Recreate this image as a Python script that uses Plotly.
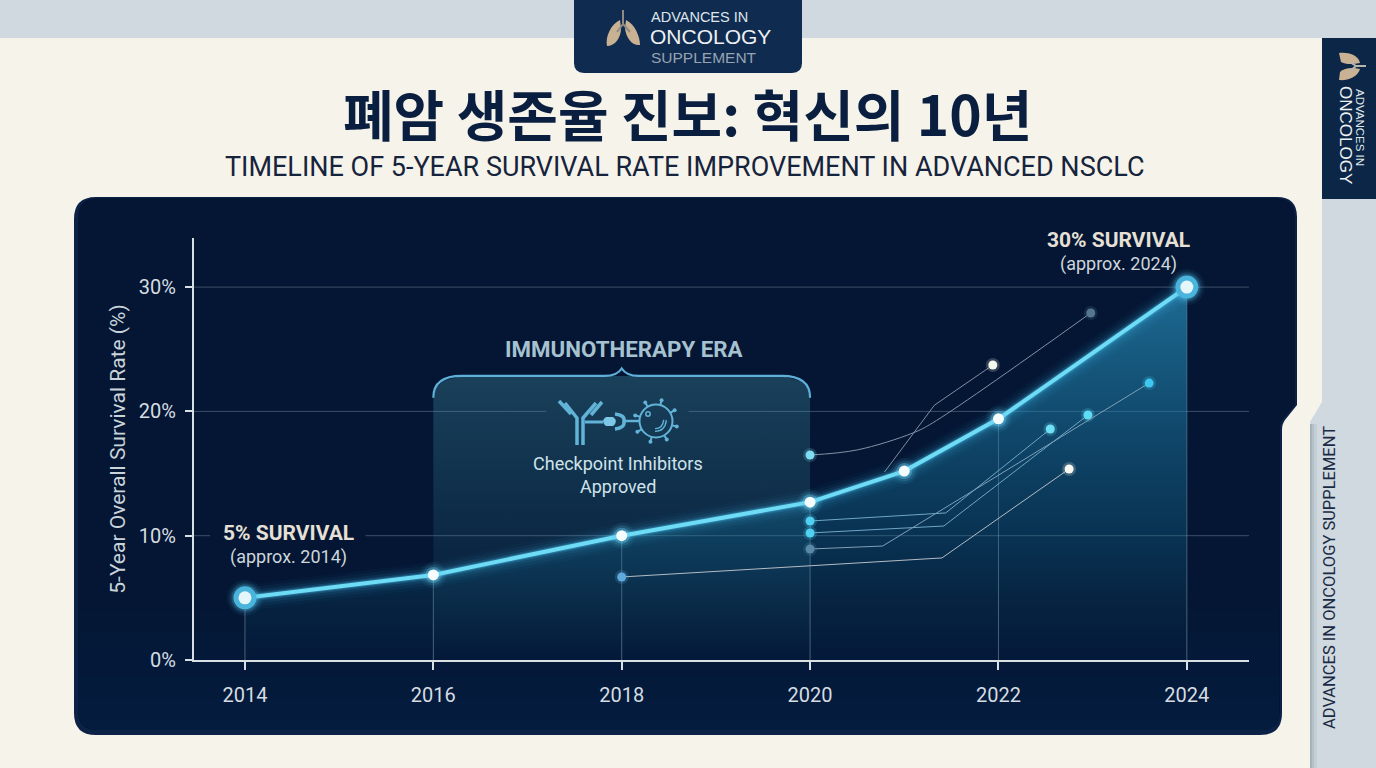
import math
import re
import plotly.graph_objects as go

# Survival curve
years = [2014, 2016, 2018, 2020, 2021, 2022, 2024]
survival = [5, 6.84, 10, 12.7, 15.2, 19.4, 30]
x_ticks = [2014, 2016, 2018, 2020, 2022, 2024]
y_ticks = [0, 10, 20, 30]
y_tick_labels = ["0%", "10%", "20%", "30%"]

# Faint horizontal guides, broken where text sits over them
guide_x = [2013.459, 2013.63, None, 2015.28, 2024.66, None,
           2013.459, 2017.2, None, 2018.71, 2024.66, None,
           2013.459, 2024.66]
guide_y = [10, 10, None, 10, 10, None,
           20, 20, None, 20, 20, None,
           30, 30]

# Immunotherapy era band, with rounded shoulders under its bracket
era_x = [2016, 2016, 2016.03, 2016.1, 2016.3, 2019.7, 2019.9, 2019.97, 2020, 2020]
era_y = [0, 21.1, 21.9, 22.45, 22.85, 22.85, 22.45, 21.9, 21.1, 0]

# Thin connector lines, each ending in a small node
connectors = [
    dict(x=[2020, 2020.5, 2021.09, 2021.3, 2022.98], y=[16.49, 16.9, 18.26, 19.07, 27.92],
         line="#7f93a8", start="#7fdcf2", end="#55768f", shape="spline"),
    dict(x=[2020.79, 2021.32, 2021.94], y=[15.12, 20.5, 23.73],
         line="#7f8ea0", start=None, end="#f4f7ec", shape="linear"),
    dict(x=[2020, 2021.44, 2022.55], y=[11.18, 11.83, 18.58],
         line="#6fa6c4", start="#4fd2f2", end="#6fe0f5", shape="linear"),
    dict(x=[2020, 2021.42, 2022.95], y=[10.22, 10.78, 19.71],
         line="#6fa6c4", start="#4fd2f2", end="#5fdcf5", shape="linear"),
    dict(x=[2020, 2020.77, 2023.6], y=[8.93, 9.17, 22.28],
         line="#7fa0b8", start="#5a88a8", end="#3fc8ef", shape="linear"),
    dict(x=[2018, 2021.4, 2022.75], y=[6.68, 8.21, 15.37],
         line="#b4bcc4", start="#5fa9dc", end="#f8f8f0", shape="linear"),
]

WIDTH, HEIGHT = 1376, 768
LEFT, RIGHT, TOP, BOTTOM = 194, 1249, 238, 660
FONT = "Roboto"
BRAND = "Liberation Sans"
CJK = "Noto Sans CJK KR"


def fx(px):
    return (px - LEFT) / (RIGHT - LEFT)


def fy(py):
    return (BOTTOM - py) / (BOTTOM - TOP)


def page_path(d):
    """Turn an SVG path written in page pixels into plot-paper coordinates."""
    nums = iter(re.findall(r"-?\d+\.?\d*|[A-Za-z]", d))
    out = []
    for tok in nums:
        if tok.isalpha():
            out.append(tok)
        else:
            out.append(f"{fx(float(tok)):.5f},{fy(float(next(nums))):.5f}")
    return " ".join(out)


shapes = []


def fill(d, color, layer="below", opacity=1):
    shapes.append(dict(type="path", xref="paper", yref="paper", path=page_path(d),
                       fillcolor=color, line=dict(width=0), layer=layer, opacity=opacity))


def stroke(d, color, width, layer="above", opacity=1):
    shapes.append(dict(type="path", xref="paper", yref="paper", path=page_path(d),
                       line=dict(color=color, width=width), layer=layer, opacity=opacity))


def circle(cx, cy, r, line=None, width=0, color=None, layer="above"):
    shapes.append(dict(type="circle", xref="paper", yref="paper",
                       x0=fx(cx - r), x1=fx(cx + r), y0=fy(cy + r), y1=fy(cy - r),
                       fillcolor=color or "rgba(0,0,0,0)",
                       line=dict(color=line or "rgba(0,0,0,0)", width=width), layer=layer))


# Page: soft shadow beside the sheet, sheet with a notched right edge, then the chart panel
for off, a in [(7, 0.12), (4, 0.2), (2, 0.28)]:
    fill(f"M 1310 424 L {1310 + off} 424 L {1310 + off} 768 L 1310 768 Z", "#7f8c96", opacity=a)
fill("M 0 38 L 1322 38 L 1322 402 L 1310 422 L 1310 768 L 0 768 Z", "#f6f3ea")
fill("M 96 197 L 1277 197 Q 1297 197 1297 217 L 1297 405 L 1285 420 Q 1282 424 1282 430 "
     "L 1282 713 Q 1282 735 1260 735 L 96 735 Q 74 735 74 713 L 74 219 Q 74 197 96 197 Z", "#0b2146")
fill("M 98 198 L 1275 198 Q 1295 198 1295 218 L 1295 405 L 1283 419 Q 1280 423 1280 429 "
     "L 1280 711 Q 1280 730 1260 730 L 98 730 Q 78 730 78 711 L 78 218 Q 78 198 98 198 Z", "#041633")
# The panel lightens a little towards its lower edge
for top in range(610, 721, 22):
    fill(f"M 78 {top} L 1280 {top} L 1280 711 Q 1280 730 1260 730 L 98 730 Q 78 730 78 711 Z",
         "#1a3f66", opacity=0.05)

# Masthead tab and side tab
fill("M 574 0 L 802 0 L 802 63 Q 802 73 792 73 L 584 73 Q 574 73 574 63 Z", "#0f2b50")
fill("M 1322 38 L 1376 38 L 1376 199 L 1322 199 Z", "#0c2647")

# Lungs on the masthead
BEIGE = "#c9b193"
fill("M 620 20 C 611 24 605 37 607 46 C 615 46 621 38 621 28 Z", BEIGE)
fill("M 626 20 C 635 24 640 37 640 45 C 632 46 626 38 625 28 Z", BEIGE)
stroke("M 623 10 L 623 24 M 623 24 L 617 32 M 623 24 L 630 32", "#8f8a84", 2)

# Lungs on the side tab
fill("M 1339 53 C 1347 52 1358 54 1360 63 C 1352 65 1344 64 1341 62 Z", BEIGE)
fill("M 1339 80 C 1347 81 1358 77 1360 69 C 1352 67 1344 68 1340 72 Z", BEIGE)
stroke("M 1366 66 L 1356 66 M 1356 66 L 1350 62 M 1356 66 L 1350 71", "#b7b5ae", 2)

# Antibody binding a tumour cell
ICON = "#62b3d8"
stroke("M 577 445 L 577 418 L 565 403", ICON, 3.5)
stroke("M 583 445 L 583 418 L 596 403", ICON, 3.5)
stroke("M 559 401 L 571 414", ICON, 3.5)
stroke("M 602 402 L 591 415", ICON, 3.5)
stroke("M 585 422 L 603 422", ICON, 3)
fill("M 606 417 L 613 417 Q 619 421 613 426 L 606 426 Q 600 421 606 417 Z", "#7cc6e6", layer="above")
stroke("M 615 414 Q 625 415 624 421 Q 625 428 615 429", ICON, 3.5)
stroke("M 624 421 L 640 421", ICON, 2.5)
circle(656, 421, 16.5, line=ICON, width=2)
circle(648, 414, 2.2, line=ICON, width=1.5)
stroke("M 655 430 Q 664 430 665 420", ICON, 4)
stroke("M 655 430 Q 664 430 665 420", "#17405e", 1.4)
for k in range(8):
    a = math.radians(k * 45 + 15)
    x1, y1 = 656 + 16.5 * math.cos(a), 421 + 16.5 * math.sin(a)
    x2, y2 = 656 + 21.5 * math.cos(a), 421 + 21.5 * math.sin(a)
    stroke(f"M {x1:.1f} {y1:.1f} L {x2:.1f} {y2:.1f}", ICON, 2)
    circle(x2, y2, 2, color=ICON)

# Bracket over the era band
shapes.append(dict(
    type="path", xref="x", yref="y", layer="above",
    path="M 2016 21.1 Q 2016 22.85 2016.3 22.85 L 2017.82 22.85 Q 2017.95 22.85 2018 23.45 "
         "Q 2018.05 22.85 2018.18 22.85 L 2019.7 22.85 Q 2020 22.85 2020 21.1",
    line=dict(color="#5fb0d8", width=2.2)))

traces = []

# Guides and drop lines
traces.append(go.Scatter(x=guide_x, y=guide_y, mode="lines",
                         line=dict(color="rgba(190,210,225,0.3)", width=1), hoverinfo="skip"))
drop_x, drop_y = [], []
for yr, val in zip(years, survival):
    if yr in x_ticks:
        drop_x += [yr, yr, None]
        drop_y += [0, val, None]
traces.append(go.Scatter(x=drop_x, y=drop_y, mode="lines",
                         line=dict(color="rgba(190,215,230,0.38)", width=1), hoverinfo="skip"))

# Era band, fading out towards the axis
traces.append(go.Scatter(
    x=era_x, y=era_y, mode="lines", fill="toself", line=dict(width=0), hoverinfo="skip",
    fillgradient=dict(type="vertical", start=0, stop=22.85,
                      colorscale=[[0, "rgba(60,150,170,0)"], [0.45, "rgba(60,150,170,0.15)"],
                                  [1, "rgba(70,150,170,0.33)"]])))

# Area under the curve
traces.append(go.Scatter(
    x=years, y=survival, mode="lines", fill="tozeroy", line=dict(width=0), hoverinfo="skip",
    fillgradient=dict(type="vertical", start=0, stop=30,
                      colorscale=[[0, "rgba(20,115,150,0)"], [0.33, "rgba(20,115,155,0.3)"],
                                  [1, "rgba(40,140,185,0.72)"]])))

# Connectors
for c in connectors:
    traces.append(go.Scatter(x=c["x"], y=c["y"], mode="lines",
                             line=dict(color=c["line"], width=1, shape=c["shape"]), hoverinfo="skip"))
    for ex, ey, col in [(c["x"][0], c["y"][0], c["start"]), (c["x"][-1], c["y"][-1], c["end"])]:
        if col is None:
            continue
        traces.append(go.Scatter(x=[ex], y=[ey], mode="markers", hoverinfo="skip",
                                 marker=dict(size=14, color=col, opacity=0.2, line=dict(width=0))))
        traces.append(go.Scatter(x=[ex], y=[ey], mode="markers", hoverinfo="skip",
                                 marker=dict(size=9, color=col, line=dict(width=0))))

# Glowing curve
for w, a in [(26, 0.03), (20, 0.05), (14, 0.08), (9, 0.16), (6, 0.3)]:
    traces.append(go.Scatter(x=years, y=survival, mode="lines", hoverinfo="skip",
                             line=dict(color=f"rgba(70,190,240,{a})", width=w)))
traces.append(go.Scatter(x=years, y=survival, mode="lines", hoverinfo="skip",
                         line=dict(color="#6fdcf5", width=4)))

# Interior points with halo
mid_x, mid_y = years[1:-1], survival[1:-1]
for s, a in [(26, 0.07), (21, 0.13), (16, 0.35)]:
    traces.append(go.Scatter(x=mid_x, y=mid_y, mode="markers", hoverinfo="skip",
                             marker=dict(size=s, color="#6ad4f5", opacity=a, line=dict(width=0))))
traces.append(go.Scatter(x=mid_x, y=mid_y, mode="markers", hoverinfo="skip",
                         marker=dict(size=11, color="#f4fcfd", line=dict(width=0))))

# Endpoints: ringed markers
end_x, end_y = [years[0], years[-1]], [survival[0], survival[-1]]
for s, a in [(36, 0.07), (31, 0.12), (27, 0.22)]:
    traces.append(go.Scatter(x=end_x, y=end_y, mode="markers", hoverinfo="skip",
                             marker=dict(size=s, color="#58c8f0", opacity=a, line=dict(width=0))))
traces.append(go.Scatter(x=end_x, y=end_y, mode="markers", hoverinfo="skip",
                         marker=dict(size=23, color="#4ab5dc", line=dict(width=0))))
traces.append(go.Scatter(x=end_x, y=end_y, mode="markers", hoverinfo="skip",
                         marker=dict(size=13, color="#e4f6f9", line=dict(width=0))))

annotations = []


def text(s, x, y, size, color, bold=False, family=FONT, angle=0, anchor="center"):
    annotations.append(dict(
        text=f"<b>{s}</b>" if bold else s, x=fx(x), y=fy(y), xref="paper", yref="paper",
        showarrow=False, xanchor=anchor, yanchor="middle", textangle=angle,
        font=dict(family=family, size=size, color=color)))


text("폐암 생존율 진보: 혁신의 10년", 687, 112, 55, "#0a1f3f", bold=True, family=CJK)
text("TIMELINE OF 5-YEAR SURVIVAL RATE IMPROVEMENT IN ADVANCED NSCLC", 685, 167, 27, "#16233c")
text("ADVANCES IN", 649, 17, 14.5, "#dfe5ea", family=BRAND, anchor="left")
text("ONCOLOGY", 648, 36.5, 21, "#eef1f3", family=BRAND, anchor="left")
text("SUPPLEMENT", 649, 57.5, 15.5, "#97a3b0", family=BRAND, anchor="left")
text("ADVANCES IN", 1360, 127, 11.5, "#dfe5ea", family=BRAND, angle=90)
text("ONCOLOGY", 1346, 135, 17, "#eef1f3", family=BRAND, angle=90)
text("ADVANCES IN ONCOLOGY SUPPLEMENT", 1329, 578, 16.5, "#1a2a44", angle=-90)
text("5% SURVIVAL", 288, 533, 21, "#e6e0d6", bold=True)
text("(approx. 2014)", 288, 557, 18, "#cdd6dc")
text("30% SURVIVAL", 1118, 240, 21, "#e6e0d6", bold=True)
text("(approx. 2024)", 1118, 264, 18, "#cdd6dc")
text("IMMUNOTHERAPY ERA", 624, 349, 22.3, "#a6c2d1", bold=True)
text("Checkpoint Inhibitors", 618, 463, 18, "#cfe3ea")
text("Approved", 618, 486, 18, "#cfe3ea")

AXIS = "#d9e0e3"
fig = go.Figure(traces)
fig.update_layout(
    width=WIDTH, height=HEIGHT, autosize=False,
    margin=dict(l=LEFT, r=WIDTH - RIGHT, t=TOP, b=HEIGHT - BOTTOM, pad=0),
    paper_bgcolor="#cfd9df", plot_bgcolor="rgba(0,0,0,0)",
    showlegend=False, shapes=shapes, annotations=annotations,
    xaxis=dict(range=[2013.459, 2024.66], tickvals=x_ticks, showgrid=False, zeroline=False,
               showline=True, linecolor=AXIS, linewidth=2, ticks="outside", ticklen=8, tickwidth=2,
               tickcolor=AXIS, ticklabelstandoff=8,
               tickfont=dict(family=FONT, size=20, color="#d5dde2")),
    yaxis=dict(range=[0, 33.95], tickvals=y_ticks, ticktext=y_tick_labels, showgrid=False, zeroline=False,
               showline=True, linecolor=AXIS, linewidth=2, ticks="outside", ticklen=7, tickwidth=2,
               tickcolor=AXIS, ticklabelstandoff=5,
               tickfont=dict(family=FONT, size=20, color="#d5dde2"),
               title=dict(text="5-Year Overall Survival Rate (%)", standoff=8,
                          font=dict(family=FONT, size=21, color="#c9d3da"))),
)
fig.write_html("out.html", config={"displayModeBar": False})
